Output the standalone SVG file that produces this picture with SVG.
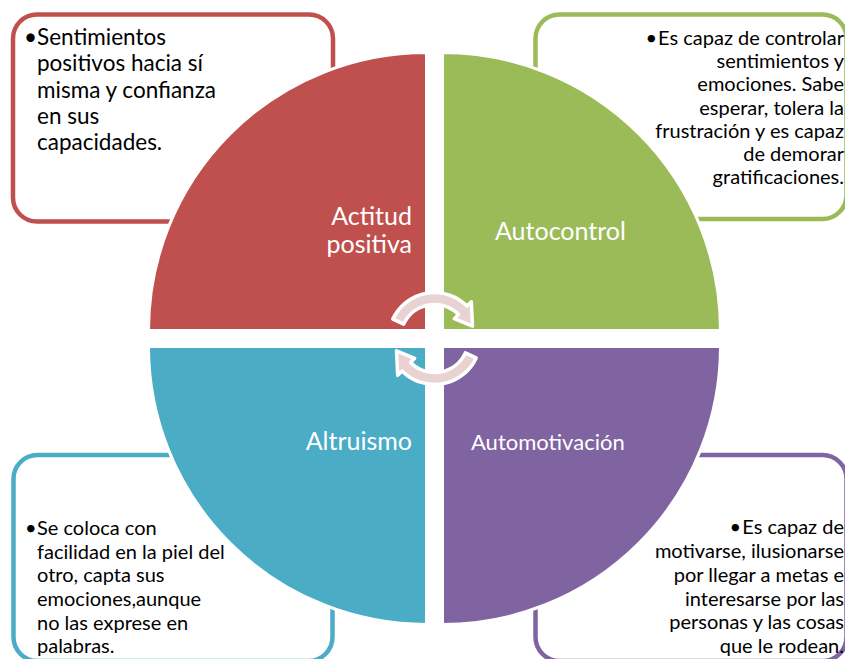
<svg xmlns="http://www.w3.org/2000/svg" width="845" height="659" viewBox="0 0 845 659">
<style>
.box{fill:#fff;stroke-width:4.5}
.q{stroke:#fff;stroke-width:3}
.t{font-family:Lato,"Liberation Sans",sans-serif;font-size:20px;fill:#000}
.big{font-size:22.5px}
.r{text-anchor:end}
.lbl{font-family:Lato,"Liberation Sans",sans-serif;font-size:25px;fill:#fff}
.arr{fill:#E9D2D2;stroke:#fff;stroke-width:3.5;stroke-linejoin:round}
</style>
<rect width="845" height="659" fill="#fff"/>
<g id="box-actitud">
<rect class="box" x="13" y="14.5" width="320" height="207" rx="24" stroke="#C0504D"/>
<text class="t big"><tspan x="24" y="45">•</tspan><tspan x="37" y="45">Sentimientos</tspan><tspan x="37" y="71.2">positivos hacia sí</tspan><tspan x="37" y="97.5">misma y confianza</tspan><tspan x="37" y="123.7">en sus</tspan><tspan x="37" y="150">capacidades.</tspan></text>
</g>
<g id="box-autocontrol">
<rect class="box" x="535.5" y="14.5" width="311" height="204.5" rx="24" stroke="#9BBB59"/>
<text class="t r" x="657" y="45">•</text>
<text class="t r"><tspan x="844" y="45">Es capaz de controlar</tspan><tspan x="844" y="68.2">sentimientos y</tspan><tspan x="844" y="91.4">emociones. Sabe</tspan><tspan x="844" y="114.6">esperar, tolera la</tspan><tspan x="844" y="137.8">frustración y es capaz</tspan><tspan x="844" y="161">de demorar</tspan><tspan x="844" y="184.2">gratificaciones.</tspan></text>
</g>
<g id="box-altruismo">
<rect class="box" x="13.5" y="455" width="319" height="206" rx="24" stroke="#4BACC6"/>
<text class="t"><tspan x="25" y="535">•</tspan><tspan x="37" y="535">Se coloca con</tspan><tspan x="37" y="558.7">facilidad en la piel del</tspan><tspan x="37" y="582.3">otro, capta sus</tspan><tspan x="37" y="606">emociones,aunque</tspan><tspan x="37" y="629.6">no las exprese en</tspan><tspan x="37" y="653.3">palabras.</tspan></text>
</g>
<g id="box-automotivacion">
<rect class="box" x="535.5" y="455" width="311" height="206" rx="24" stroke="#8064A2"/>
<text class="t r" x="741" y="534">•</text>
<text class="t r"><tspan x="844" y="534">Es capaz de</tspan><tspan x="844" y="557.9">motivarse, ilusionarse</tspan><tspan x="844" y="581.7">por llegar a metas e</tspan><tspan x="844" y="605.6">interesarse por las</tspan><tspan x="844" y="629.4">personas y las cosas</tspan><tspan x="844" y="653.3">que le rodean.</tspan></text>
</g>
<g id="q-actitud">
<path class="q" fill="#C0504D" d="M426.5 330.5 H148.5 A278 278 0 0 1 426.5 52.5 Z"/>
<text class="lbl r"><tspan x="412" y="225">Actitud</tspan><tspan x="412" y="253">positiva</tspan></text>
</g>
<g id="q-autocontrol">
<path class="q" fill="#9BBB59" d="M442.5 330.5 V52.5 A278 278 0 0 1 720.5 330.5 Z"/>
<text class="lbl" x="495" y="240">Autocontrol</text>
</g>
<g id="q-altruismo">
<path class="q" fill="#4BACC6" d="M426.5 346.5 V624.5 A278 278 0 0 1 148.5 346.5 Z"/>
<text class="lbl r" x="412" y="450">Altruismo</text>
</g>
<g id="q-automotivacion">
<path class="q" fill="#8064A2" d="M442.5 346.5 H720.5 A278 278 0 0 1 442.5 624.5 Z"/>
<text class="lbl" x="471" y="450" style="font-size:22px">Automotivación</text>
</g>
<g id="connectors">
<path class="arr" transform="translate(434.5 338.5)" d="M32.5 -32.5 A46 46 0 0 0 -41.7 -19.4 L-30.8 -14.4 A34 34 0 0 1 24 -24 L19.8 -19.8 L38 -12.4 L36.8 -36.8 Z"/>
<path class="arr" transform="translate(434.5 338.5) rotate(180)" d="M32.5 -32.5 A46 46 0 0 0 -41.7 -19.4 L-30.8 -14.4 A34 34 0 0 1 24 -24 L19.8 -19.8 L38 -12.4 L36.8 -36.8 Z"/>
</g>
</svg>
